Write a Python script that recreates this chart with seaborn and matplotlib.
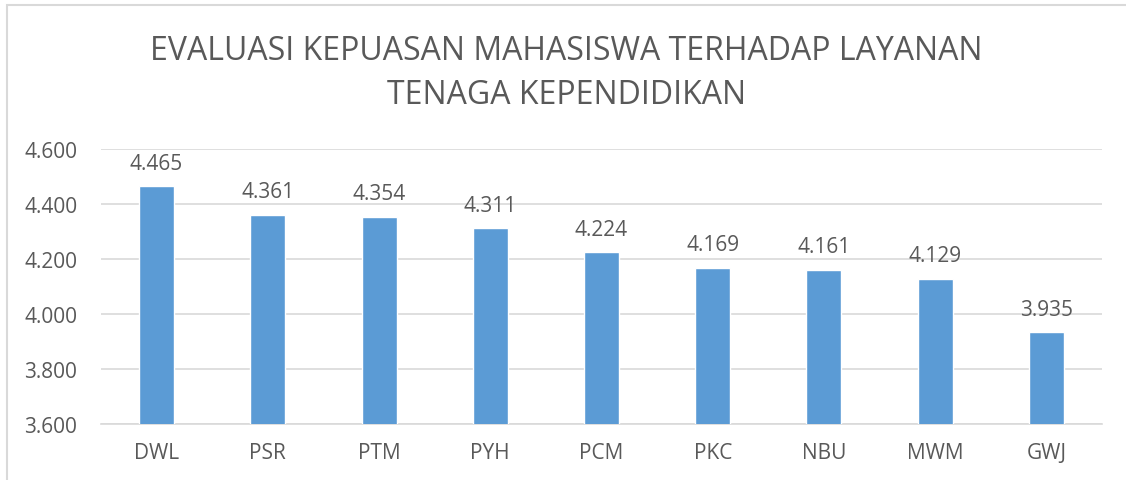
import matplotlib
matplotlib.use("Agg")
import matplotlib.pyplot as plt
import seaborn as sns
import pandas as pd
from matplotlib.ticker import FuncFormatter

# data
categories = ["DWL", "PSR", "PTM", "PYH", "PCM", "PKC", "NBU", "MWM", "GWJ"]
scores = [4.465, 4.361, 4.354, 4.311, 4.224, 4.169, 4.161, 4.129, 3.935]
title_lines = ["EVALUASI KEPUASAN MAHASISWA TERHADAP LAYANAN", "TENAGA KEPENDIDIKAN"]

df = pd.DataFrame({"kode": categories, "nilai": scores})

sns.set_style("white")
plt.rcParams["font.family"] = ["Open Sans", "DejaVu Sans"]

txt = "#595959"
fig = plt.figure(figsize=(11.26, 4.81), dpi=100)
ax = fig.add_axes([0.0897, 0.1164, 0.889, 0.5717])

sns.barplot(data=df, x="kode", y="nilai", color="#5B9BD5", width=0.315,
            saturation=1, ax=ax, zorder=3)

ax.set_ylim(3.6, 4.6)
ax.set_yticks([3.6, 3.8, 4.0, 4.2, 4.4, 4.6])
ax.yaxis.set_major_formatter(FuncFormatter(lambda v, p: f"{v:.3f}"))
ax.grid(axis="y", color="#D9D9D9", linewidth=1.2, zorder=0)
ax.set_xlabel("")
ax.set_ylabel("")
for s in ["top", "right", "left"]:
    ax.spines[s].set_visible(False)
ax.spines["bottom"].set_color("#D9D9D9")
ax.spines["bottom"].set_linewidth(1.2)
ax.tick_params(axis="both", length=0, labelsize=15, colors=txt)
ax.tick_params(axis="x", pad=13)
ax.tick_params(axis="y", pad=17)

for i, v in enumerate(scores):
    ax.text(i, v + 0.045, f"{v:.3f}", ha="center", va="bottom", fontsize=15, color=txt)

fig.text(0.503, 1 - 51 / 481, title_lines[0], ha="center", va="center", fontsize=23, color=txt)
fig.text(0.503, 1 - 96 / 481, title_lines[1], ha="center", va="center", fontsize=23, color=txt)

# chart frame (left and top edges visible)
fig.add_artist(plt.Rectangle((6.5 / 1126, -0.1), 1.2, 1 - 5.5 / 481 + 0.1,
                             transform=fig.transFigure, fill=False,
                             edgecolor="#D9D9D9", linewidth=1.5))

fig.savefig("out.png", dpi=100)
